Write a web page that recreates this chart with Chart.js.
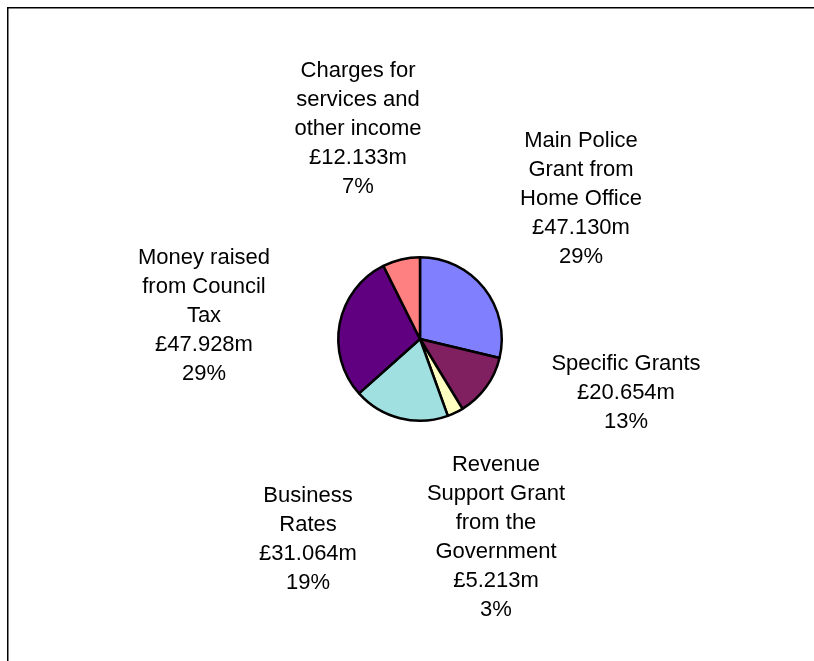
<!DOCTYPE html>
<html>
<head>
<meta charset="utf-8">
<title>Income sources</title>
<script src="https://cdn.jsdelivr.net/npm/chart.js@4.4.0/dist/chart.umd.min.js"></script>
<style>
    html, body { margin: 0; padding: 0; background: #fff; }
    #wrap { position: relative; width: 814px; height: 661px; }
</style>
</head>
<body>
<div id="wrap"><canvas id="pie"></canvas></div>
<script>
// Income data (£ millions), clockwise from 12 o'clock
const categories = [
    ['Main Police', 'Grant from', 'Home Office'],
    ['Specific Grants'],
    ['Revenue', 'Support Grant', 'from the', 'Government'],
    ['Business', 'Rates'],
    ['Money raised', 'from Council', 'Tax'],
    ['Charges for', 'services and', 'other income']
];
const amounts = [47.130, 20.654, 5.213, 31.064, 47.928, 12.133];
const sliceColours = ['#8080FF', '#802060', '#FFFFC0', '#A0E0E0', '#600080', '#FF8080'];

// Where each label block sits (centre x, first line y)
const labelAnchors = [
    [581, 141], [626, 364], [496, 465], [308, 496], [204, 258], [358, 71]
];
const lineHeight = 29;

const total = amounts.reduce((a, b) => a + b, 0);

// Frame: top and left edges only, the rest runs off the page
const framePlugin = {
    id: 'frame',
    beforeDraw(chart) {
        const ctx = chart.ctx;
        ctx.save();
        ctx.fillStyle = '#fff';
        ctx.fillRect(0, 0, chart.width, chart.height);
        ctx.strokeStyle = '#000';
        ctx.lineWidth = 1.5;
        ctx.beginPath();
        ctx.moveTo(7.75, chart.height);
        ctx.lineTo(7.75, 7.75);
        ctx.lineTo(chart.width, 7.75);
        ctx.stroke();
        ctx.restore();
    }
};

// Category, amount and percentage text beside each slice
const labelPlugin = {
    id: 'sliceLabels',
    afterDraw(chart) {
        const ctx = chart.ctx;
        ctx.save();
        ctx.fillStyle = '#000';
        ctx.font = '22px "Liberation Sans", Arial, sans-serif';
        ctx.textAlign = 'center';
        ctx.textBaseline = 'middle';
        categories.forEach((name, i) => {
            const lines = name.concat([
                '£' + amounts[i].toFixed(3) + 'm',
                Math.round(amounts[i] / total * 100) + '%'
            ]);
            const [x, y] = labelAnchors[i];
            lines.forEach((line, j) => ctx.fillText(line, x, y + j * lineHeight));
        });
        ctx.restore();
    }
};

new Chart(document.getElementById('pie'), {
    type: 'pie',
    data: {
        labels: categories.map(c => c.join(' ')),
        datasets: [{
            data: amounts,
            backgroundColor: sliceColours,
            borderColor: '#000',
            borderWidth: 2.5
        }]
    },
    options: {
        responsive: true,
        maintainAspectRatio: false,
        animation: false,
        layout: { padding: { left: 337, right: 311, top: 256, bottom: 239 } },
        plugins: {
            legend: { display: false },
            tooltip: { enabled: false }
        }
    },
    plugins: [framePlugin, labelPlugin]
});
</script>
</body>
</html>
